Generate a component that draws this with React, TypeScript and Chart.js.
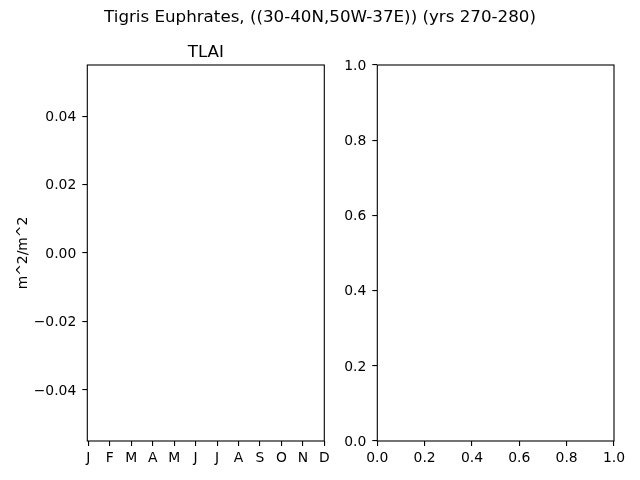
import React, { useEffect, useRef } from "react";
import { Chart, registerables } from "chart.js";

Chart.register(...registerables);

const suptitle = "Tigris Euphrates, ((30-40N,50W-37E)) (yrs 270-280)";
const leftTitle = "TLAI";
const leftYLabel = "m^2/m^2";
const months = ["J", "F", "M", "A", "M", "J", "J", "A", "S", "O", "N", "D"];
const monthPositions = [0, 1, 2, 3, 4, 5, 6, 7, 8, 9, 10, 11];
const tlaiValues: number[] = [];
const leftYTicks = [-0.04, -0.02, 0.0, 0.02, 0.04];
const rightTicks = [0.0, 0.2, 0.4, 0.6, 0.8, 1.0];

const FONT = "DejaVu Sans";
const TICK_FONT = { family: FONT, size: 13.9 };

const fmt = (v: number, d: number) => {
  const s = Math.abs(v).toFixed(d);
  return v < -1e-12 ? "\u2212" + s : s;
};

const boxPlugin = {
  id: "box",
  afterDraw(chart: any) {
    const { ctx, chartArea } = chart;
    ctx.save();
    ctx.strokeStyle = "#000";
    ctx.lineWidth = 1.1;
    ctx.strokeRect(chartArea.left, chartArea.top, chartArea.right - chartArea.left, chartArea.bottom - chartArea.top);
    ctx.restore();
  },
};

const gridCfg = {
  display: true,
  drawOnChartArea: false,
  drawTicks: true,
  tickLength: 5,
  color: "#000",
  lineWidth: 1.1,
};

export default function App() {
  const leftRef = useRef<HTMLCanvasElement>(null);
  const rightRef = useRef<HTMLCanvasElement>(null);

  useEffect(() => {
    const left = new Chart(leftRef.current!, {
      type: "line",
      data: {
        datasets: [
          {
            label: leftTitle,
            data: tlaiValues.map((v, i) => ({ x: monthPositions[i], y: v })),
            borderColor: "#1f77b4",
            pointRadius: 0,
          },
        ],
      },
      options: {
        animation: false,
        responsive: false,
        devicePixelRatio: 1,
        layout: { padding: { top: 65, left: 0, right: 15.7, bottom: 0 } },
        plugins: { legend: { display: false }, tooltip: { enabled: false }, title: { display: false } },
        scales: {
          x: {
            type: "linear",
            min: -0.05,
            max: 11,
            grid: gridCfg,
            border: { display: false },
            afterBuildTicks: (s: any) => {
              s.ticks = monthPositions.map((v) => ({ value: v }));
            },
            afterFit: (s: any) => {
              s.height = 39;
            },
            ticks: {
              autoSkip: false,
              maxRotation: 0,
              color: "#000",
              font: TICK_FONT,
              padding: 4,
              callback: (v: any) => months[Math.round(Number(v))] ?? "",
            },
          },
          y: {
            type: "linear",
            min: -0.055,
            max: 0.055,
            grid: gridCfg,
            border: { display: false },
            afterBuildTicks: (s: any) => {
              s.ticks = leftYTicks.map((v) => ({ value: v }));
            },
            afterFit: (s: any) => {
              s.width = 87.3;
            },
            title: {
              display: true,
              text: leftYLabel,
              color: "#000",
              font: TICK_FONT,
              padding: { top: 15, bottom: 0 },
            },
            ticks: {
              color: "#000",
              font: TICK_FONT,
              padding: 6,
              labelOffset: 1.2,
              callback: (v: any) => fmt(Number(v), 2),
            },
          },
        },
      },
      plugins: [boxPlugin],
    });

    const right = new Chart(rightRef.current!, {
      type: "line",
      data: { datasets: [] },
      options: {
        animation: false,
        responsive: false,
        devicePixelRatio: 1,
        layout: { padding: { top: 65, left: 0, right: 26, bottom: 0 } },
        plugins: { legend: { display: false }, tooltip: { enabled: false }, title: { display: false } },
        scales: {
          x: {
            type: "linear",
            min: 0,
            max: 1,
            grid: gridCfg,
            border: { display: false },
            afterBuildTicks: (s: any) => {
              s.ticks = rightTicks.map((v) => ({ value: v }));
            },
            afterFit: (s: any) => {
              s.height = 39;
            },
            ticks: {
              autoSkip: false,
              maxRotation: 0,
              color: "#000",
              font: TICK_FONT,
              padding: 4,
              callback: (v: any) => fmt(Number(v), 1),
            },
          },
          y: {
            type: "linear",
            min: 0,
            max: 1,
            grid: gridCfg,
            border: { display: false },
            afterBuildTicks: (s: any) => {
              s.ticks = rightTicks.map((v) => ({ value: v }));
            },
            afterFit: (s: any) => {
              s.width = 37.3;
            },
            ticks: {
              color: "#000",
              font: TICK_FONT,
              padding: 6,
              labelOffset: 1.2,
              callback: (v: any) => fmt(Number(v), 1),
            },
          },
        },
      },
      plugins: [boxPlugin],
    });

    return () => {
      left.destroy();
      right.destroy();
    };
  }, []);

  const textStyle: React.CSSProperties = {
    position: "absolute",
    fontFamily: FONT,
    fontSize: "16.7px",
    lineHeight: "16.7px",
    color: "#000",
    whiteSpace: "nowrap",
    transform: "translateX(-50%)",
  };

  return (
    <div style={{ position: "absolute", left: 0, top: 0, width: 640, height: 480, background: "#fff", overflow: "hidden" }}>
      <canvas ref={leftRef} width={340} height={480} style={{ position: "absolute", left: 0, top: 0, width: 340, height: 480 }} />
      <canvas ref={rightRef} width={300} height={480} style={{ position: "absolute", left: 340, top: 0, width: 300, height: 480 }} />
      <div style={{ ...textStyle, left: 320, top: 8 }}>{suptitle}</div>
      <div style={{ ...textStyle, left: 205.8, top: 43 }}>{leftTitle}</div>
    </div>
  );
}
